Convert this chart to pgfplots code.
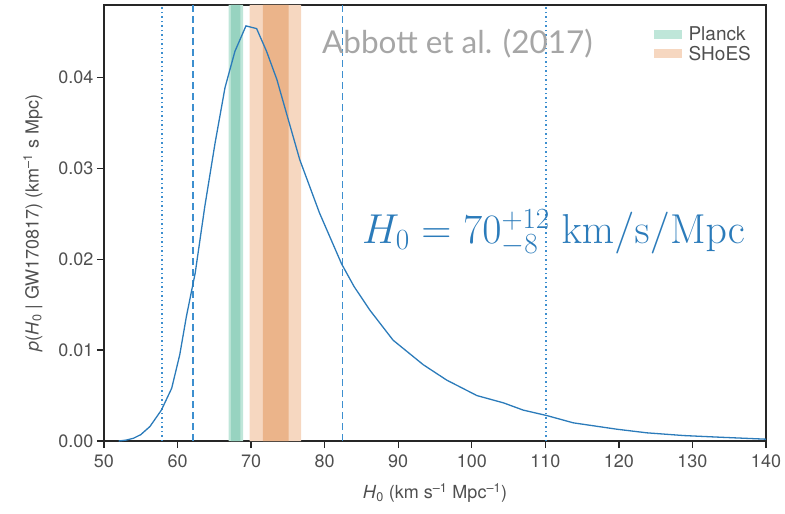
\RequirePackage{fix-cm}
\documentclass[border=0pt]{standalone}
\usepackage[no-math]{fontspec}
\setmainfont{TeX Gyre Heros}
\newfontfamily\lato{Lato}
\usepackage{pgfplots}
\pgfplotsset{compat=1.18}
\usetikzlibrary{calc}
\definecolor{curve}{HTML}{2B7BBA}
\definecolor{vline}{HTML}{3D8FCF}
\definecolor{planckL}{HTML}{BFE6D9}
\definecolor{planckD}{HTML}{97D3C0}
\definecolor{shoesL}{HTML}{F6D7C0}
\definecolor{shoesD}{HTML}{EBB48A}
\definecolor{ticktext}{HTML}{4F4F4F}
\definecolor{cite}{HTML}{A6A6A6}

% posterior p(H0 | GW170817)
\pgfplotstableread{
x y
52 0
53 0.0001
54 0.0003
55 0.0007
56.25 0.0016
57.8 0.0034
59.2 0.0058
60.3 0.0095
61.2 0.0137
62.4 0.0185
63.7 0.0258
65.1 0.0328
66.45 0.0389
67.8 0.0429
69.3 0.0457
70.75 0.0454
72.1 0.0429
73.5 0.0398
74.8 0.0361
76.6 0.0310
79.3 0.0251
82.3 0.0195
84 0.0170
86.15 0.0144
89.3 0.0111
93.4 0.0084
96.6 0.0067
100.7 0.0050
104.3 0.0042
107 0.0034
110.2 0.0028
113.8 0.0020
119.7 0.0013
123.8 0.0009
128.8 0.0006
134.2 0.0004
140 0.0002
}\posterior

\begin{document}
\begin{tikzpicture}
\begin{axis}[
  scale only axis, width=662pt, height=436pt,
  xmin=50, xmax=140, ymin=0, ymax=0.048,
  xtick={50,60,70,80,90,100,110,120,130,140},
  ytick={0,0.01,0.02,0.03,0.04},
  xtick pos=bottom, ytick pos=left,
  scaled y ticks=false,
  yticklabel style={/pgf/number format/.cd,fixed,fixed zerofill,precision=2},
  xticklabel style={yshift=-3pt},
  /pgf/number format/assume math mode=true,
  tick align=outside, major tick length=7pt,
  axis line style={line width=1.4pt, black!85},
  major tick style={line width=1.4pt, black!85},
  ticklabel style={font=\fontsize{18}{21}\selectfont, text=ticktext},
  label style={font=\fontsize{18}{21}\selectfont, text=ticktext},
  xlabel style={yshift=-9pt},
  ylabel style={yshift=9pt},
  xlabel={\textit{H}\textsubscript{0} (km s\textsuperscript{–1} Mpc\textsuperscript{–1})},
  ylabel={\textit{p}(\textit{H}\textsubscript{0} | GW170817) (km\textsuperscript{–1} s Mpc)},
  legend style={draw=none, fill=none, at={(0.985,0.96)}, anchor=north east,
    font=\fontsize{19}{22}\selectfont, text=ticktext, row sep=0pt,
    /tikz/every odd column/.append style={column sep=5pt}},
  legend cell align=left,
  legend image code/.code={\fill[#1, draw=none] (0pt,-4.5pt) rectangle (28pt,4.5pt);},
]
\coordinate (sw) at (rel axis cs:0,0);
\coordinate (ne) at (rel axis cs:1,1);
% Planck band
\addplot[fill=planckL, draw=none] coordinates {(66.95,0) (66.95,0.048) (68.9,0.048) (68.9,0)} \closedcycle;
\addlegendentry{Planck}
% SHoES band
\addplot[fill=shoesL, draw=none] coordinates {(69.8,0) (69.8,0.048) (76.8,0.048) (76.8,0)} \closedcycle;
\addlegendentry{SHoES}
\addplot[fill=planckD, draw=none, forget plot] coordinates {(67.25,0) (67.25,0.048) (68.55,0.048) (68.55,0)} \closedcycle;
\addplot[fill=shoesD, draw=none, forget plot] coordinates {(71.6,0) (71.6,0.048) (75.1,0.048) (75.1,0)} \closedcycle;
% credible intervals
\addplot[draw=vline, line width=1.4pt, dash pattern=on 7pt off 4pt, forget plot] coordinates {(62.1,0) (62.1,0.048)};
\addplot[draw=vline, line width=1.4pt, dash pattern=on 7pt off 4pt, forget plot] coordinates {(82.4,0) (82.4,0.048)};
\addplot[draw=vline, line width=1.3pt, dash pattern=on 1.5pt off 3pt, forget plot] coordinates {(57.9,0) (57.9,0.048)};
\addplot[draw=vline, line width=1.3pt, dash pattern=on 1.5pt off 3pt, forget plot] coordinates {(110.1,0) (110.1,0.048)};
% posterior
\addplot[curve, line width=1.3pt, forget plot] table[x=x, y=y] {\posterior};
\node[text=cite, font=\lato\fontsize{31.5}{36}\selectfont] at (axis cs:98.06,0.0438) {Abbott et al. (2017)};
\node[text=curve, anchor=west, font=\fontsize{41.8}{48}\selectfont] at (axis cs:84.6,0.02290)
  {$H_0 = 70^{+12}_{-8}\ \mathrm{km/s/Mpc}$};
\end{axis}
\pgfresetboundingbox
\path[use as bounding box] ($(sw)+(-104pt,-72pt)$) rectangle ($(ne)+(19pt,5pt)$);
\end{tikzpicture}
\end{document}
